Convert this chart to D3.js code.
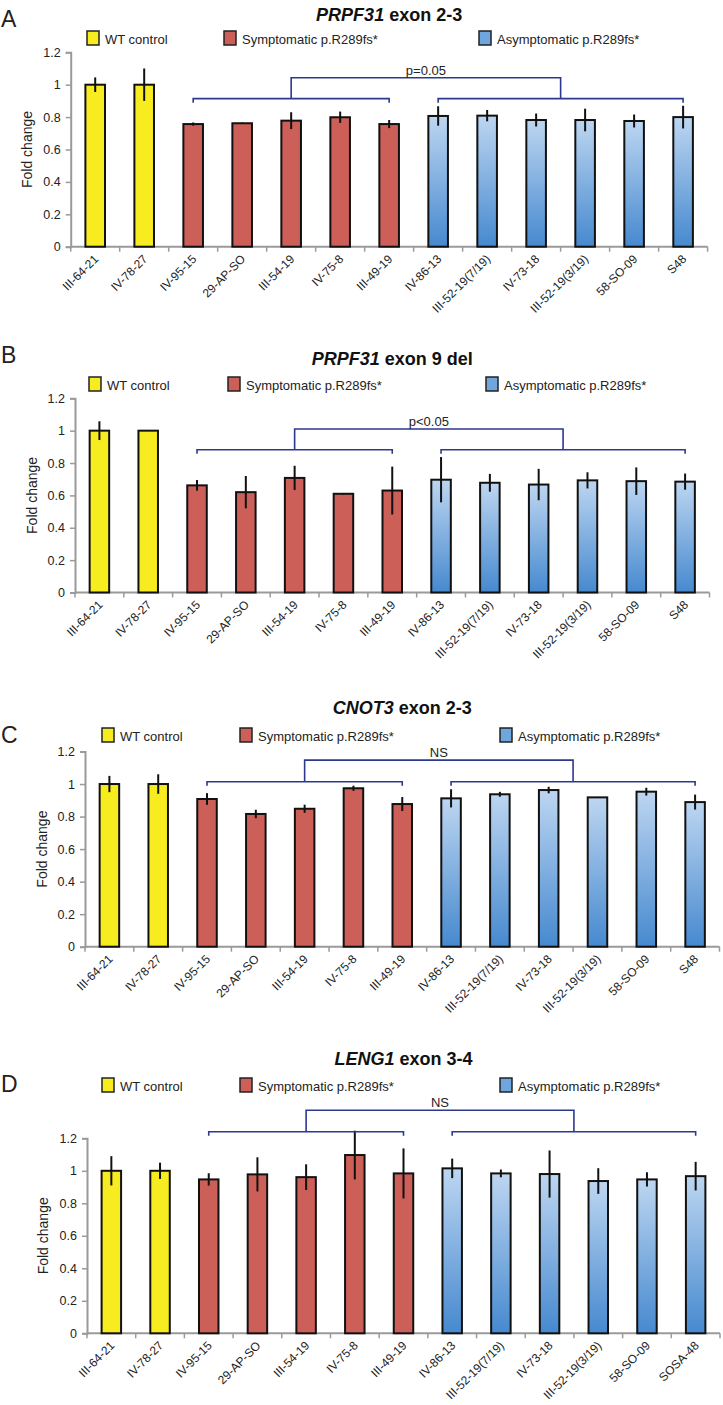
<!DOCTYPE html>
<html><head><meta charset="utf-8">
<script src="https://cdn.jsdelivr.net/npm/d3@7"></script>
<style>
body{margin:0;background:#fff}
svg{display:block}
text{font-family:"Liberation Sans",Arial,Helvetica,sans-serif}
</style>
</head><body>
<svg id="chart" width="723" height="1405"></svg>
<script>
// ---------- DATA ----------
const samplesABC = ["III-64-21","IV-78-27","IV-95-15","29-AP-SO","III-54-19","IV-75-8","III-49-19",
  "IV-86-13","III-52-19(7/19)","IV-73-18","III-52-19(3/19)","58-SO-09","S48"];
const samplesD = ["III-64-21","IV-78-27","IV-95-15","29-AP-SO","III-54-19","IV-75-8","III-49-19",
  "IV-86-13","III-52-19(7/19)","IV-73-18","III-52-19(3/19)","58-SO-09","SOSA-48"];
const groups = ["wt","wt","sym","sym","sym","sym","sym","asym","asym","asym","asym","asym","asym"];

const valuesA = [1.00,1.00,0.757,0.762,0.778,0.799,0.757,0.807,0.809,0.782,0.782,0.776,0.800];
const errorsA = [0.045,0.10,0.010,0.004,0.052,0.035,0.025,0.060,0.035,0.040,0.070,0.040,0.070];
const valuesB = [1.00,1.00,0.662,0.620,0.708,0.610,0.630,0.697,0.678,0.667,0.693,0.688,0.685];
const errorsB = [0.058,0.0,0.033,0.100,0.075,0.005,0.148,0.140,0.055,0.097,0.050,0.085,0.050];
const valuesC = [1.00,1.00,0.908,0.816,0.848,0.974,0.877,0.912,0.937,0.963,0.918,0.953,0.889];
const errorsC = [0.050,0.060,0.036,0.026,0.025,0.016,0.043,0.056,0.015,0.020,0.003,0.024,0.046];
const valuesD = [1.00,1.00,0.947,0.978,0.961,1.097,0.984,1.015,0.984,0.980,0.937,0.947,0.967];
const errorsD = [0.090,0.050,0.038,0.105,0.079,0.150,0.154,0.060,0.024,0.145,0.079,0.044,0.088];

const legendLabels = ["WT control","Symptomatic p.R289fs*","Asymptomatic p.R289fs*"];
const yTicks = [0,0.2,0.4,0.6,0.8,1,1.2];
const panelLetters = ["A","B","C","D"];
const titleGenes = ["PRPF31","PRPF31","CNOT3","LENG1"];
const titleRest = [" exon 2-3"," exon 9 del"," exon 2-3"," exon 3-4"];
const statLabels = ["p=0.05","p<0.05","NS","NS"];
// bracket heights (in fold-change units): [upper, lower]
const bracketLevels = [[1.043,0.914],[1.010,0.882],[1.147,1.014],[1.373,1.240]];
const yAxisTitle = "Fold change";

// ---------- LAYOUT ----------
const layout = [
  {letterY:27, titleY:21, legY:31, legX:[87,224,479], x0:70.7, x1:707.6, y0:246.7, yTop:52.3, ylabX:27},
  {letterY:363, titleY:365, legY:377, legX:[89,228,486], x0:75, x1:709.5, y0:592.5, yTop:398.3, ylabX:32},
  {letterY:743, titleY:714, legY:728, legX:[102,240,500], x0:85, x1:719.5, y0:946.7, yTop:751.5, ylabX:42},
  {letterY:1092, titleY:1065, legY:1078, legX:[102,240,500], x0:87, x1:720, y0:1333.3, yTop:1138.3, ylabX:43}
];

const fillColor = {wt:"#f7ec1f", sym:"#cd5f59", asym:"url(#blueGrad)"};
const legendColors = ["#f7ec1f","#cd5f59","#6ea6dd"];
const bracketColor = "#2b3990";
const axisColor = "#9a9a9a";

const svg = d3.select("#chart");
const defs = svg.append("defs");
const grad = defs.append("linearGradient").attr("id","blueGrad")
  .attr("x1",0).attr("y1",0).attr("x2",0).attr("y2",1);
grad.append("stop").attr("offset","0%").attr("stop-color","#bdd6f1");
grad.append("stop").attr("offset","100%").attr("stop-color","#4689cf");

const panels = [
  {samples:samplesABC, values:valuesA, errors:errorsA},
  {samples:samplesABC, values:valuesB, errors:errorsB},
  {samples:samplesABC, values:valuesC, errors:errorsC},
  {samples:samplesD, values:valuesD, errors:errorsD}
];

panels.forEach((p, pi) => {
  const L = layout[pi];
  const g = svg.append("g");
  const x = d3.scaleBand().domain(p.samples).range([L.x0, L.x1]).paddingInner(0).paddingOuter(0);
  const y = d3.scaleLinear().domain([0,1.2]).range([L.y0, L.yTop]);
  const bw = x.bandwidth()*0.4;

  // letter
  g.append("text").attr("x",1).attr("y",L.letterY).attr("font-size",23).attr("fill","#222")
    .text(panelLetters[pi]);
  // title
  const cx = (L.x0+L.x1)/2;
  const t = g.append("text").attr("x",cx).attr("y",L.titleY).attr("text-anchor","middle")
    .attr("font-size",18).attr("font-weight","bold").attr("fill","#111");
  t.append("tspan").attr("font-style","italic").text(titleGenes[pi]);
  t.append("tspan").text(titleRest[pi]);

  // legend
  legendLabels.forEach((lab, li) => {
    g.append("rect").attr("x",L.legX[li]).attr("y",L.legY).attr("width",12).attr("height",14)
      .attr("fill",legendColors[li]).attr("stroke","#222").attr("stroke-width",1.5);
    g.append("text").attr("x",L.legX[li]+18).attr("y",L.legY+12.5).attr("font-size",13).attr("fill","#222")
      .text(lab);
  });

  // y axis
  const yAxis = d3.axisLeft(y).tickValues(yTicks).tickSize(5).tickPadding(5)
    .tickFormat(d => d3.format("")(+d.toFixed(1)));
  const ya = g.append("g").attr("transform",`translate(${L.x0},0)`).call(yAxis);
  ya.select(".domain").attr("stroke",axisColor).attr("stroke-width",2);
  ya.selectAll(".tick line").attr("stroke",axisColor).attr("stroke-width",1.5);
  ya.selectAll(".tick text").attr("font-size",12.5).attr("fill","#222")
    .attr("font-family","Liberation Sans, Arial, sans-serif");

  // x axis
  const xAxis = d3.axisBottom(x).tickSize(0).tickFormat("");
  const xa = g.append("g").attr("transform",`translate(0,${L.y0})`).call(xAxis);
  xa.select(".domain").attr("stroke",axisColor).attr("stroke-width",2).attr("d",`M${L.x0},0H${L.x1}`);
  // boundary ticks
  const bounds = p.samples.map(s => x(s)).concat([L.x1]);
  xa.selectAll(".bt").data(bounds).join("line").attr("class","bt")
    .attr("x1",d=>d).attr("x2",d=>d).attr("y1",0).attr("y2",5)
    .attr("stroke",axisColor).attr("stroke-width",1.5);
  // labels
  g.selectAll(".xl").data(p.samples).join("text").attr("class","xl")
    .attr("transform", d => `translate(${x(d)+x.bandwidth()/2+4},${L.y0+13}) rotate(-45)`)
    .attr("text-anchor","end").attr("font-size",12).attr("fill","#222").text(d=>d);

  // y axis title
  g.append("text").attr("transform",`translate(${L.ylabX},${(L.y0+L.yTop)/2}) rotate(-90)`)
    .attr("text-anchor","middle").attr("dy","0.35em").attr("font-size",14).attr("fill","#222")
    .text(yAxisTitle);

  // bars
  g.selectAll(".bar").data(p.samples).join("rect").attr("class","bar")
    .attr("x", d => x(d)+(x.bandwidth()-bw)/2)
    .attr("y", (d,i) => y(p.values[i]))
    .attr("width", bw)
    .attr("height", (d,i) => L.y0 - y(p.values[i]))
    .attr("fill", (d,i) => fillColor[groups[i]])
    .attr("stroke","#111").attr("stroke-width",2);

  // error bars
  g.selectAll(".err").data(p.samples).join("line").attr("class","err")
    .attr("x1", d => x(d)+x.bandwidth()/2).attr("x2", d => x(d)+x.bandwidth()/2)
    .attr("y1", (d,i) => y(p.values[i]+p.errors[i]))
    .attr("y2", (d,i) => y(p.values[i]-p.errors[i]))
    .attr("stroke","#111").attr("stroke-width",2);

  // brackets
  const symIdx = groups.map((gr,i)=>gr==="sym"?i:-1).filter(i=>i>=0);
  const asymIdx = groups.map((gr,i)=>gr==="asym"?i:-1).filter(i=>i>=0);
  const c = i => x(p.samples[i]) + x.bandwidth()/2;
  const [upV, lowV] = bracketLevels[pi];
  const yU = y(upV), yL = y(lowV);
  const sL = c(symIdx[0]), sR = c(symIdx[symIdx.length-1]);
  const aL = c(asymIdx[0]), aR = c(asymIdx[asymIdx.length-1]);
  const mS = (sL+sR)/2, mA = (aL+aR)/2;
  const path = d3.path();
  path.moveTo(sL, yL+4); path.lineTo(sL, yL); path.lineTo(sR, yL); path.lineTo(sR, yL+4);
  path.moveTo(aL, yL+4); path.lineTo(aL, yL); path.lineTo(aR, yL); path.lineTo(aR, yL+4);
  path.moveTo(mS, yL); path.lineTo(mS, yU); path.lineTo(mA, yU); path.lineTo(mA, yL);
  g.append("path").attr("d", path.toString()).attr("fill","none")
    .attr("stroke",bracketColor).attr("stroke-width",1.6);
  g.append("text").attr("x",(mS+mA)/2).attr("y",yU-3).attr("text-anchor","middle")
    .attr("font-size",13).attr("fill","#222").text(statLabels[pi]);
});
</script>
</body></html>
